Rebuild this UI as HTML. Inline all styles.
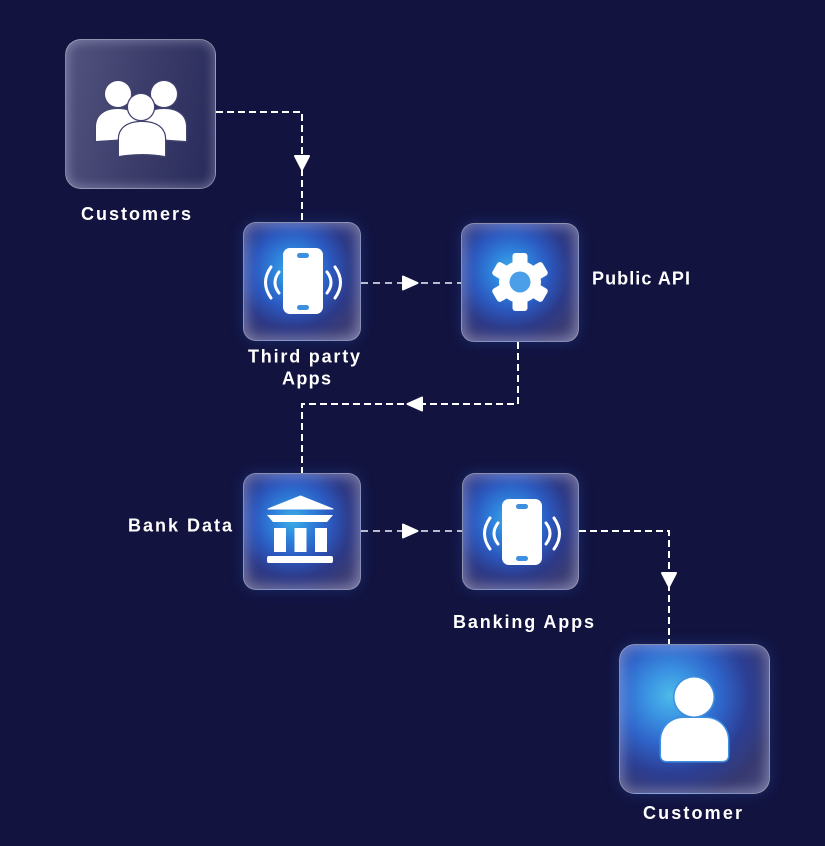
<!DOCTYPE html>
<html>
<head>
<meta charset="utf-8">
<style>
  html,body{margin:0;padding:0;}
  body{width:825px;height:846px;background:#12133f;position:relative;overflow:hidden;}
  .box{position:absolute;box-sizing:border-box;border:1px solid rgba(255,255,255,0.42);
    box-shadow: inset 0 0 12px 3px rgba(215,215,245,0.38), 0 0 14px rgba(50,110,220,0.28);}
  .gray{background:linear-gradient(100deg,#535480 0%,#3c3d6a 50%,#282a5a 100%);
    box-shadow: inset 0 0 10px 2px rgba(210,210,240,0.35);}
  .glow{border-radius:13px;width:118px;height:119px;
    background:radial-gradient(circle at 42% 40%, #3db0e6 0%, #2e82dc 20%, #2b58bf 40%, #2d3a88 60%, #3a3c74 78%, #4c4d7e 100%);}
  .bigglow{border-radius:16px;
    background:radial-gradient(circle at 34% 34%, #4cbbe9 0%, #3a92e2 18%, #2f66cb 36%, #2c3f95 56%, #363970 76%, #4a4b7c 100%);}
  svg{position:absolute;left:0;top:0;}
  text{font-family:"Liberation Sans",sans-serif;font-weight:bold;font-size:18px;fill:#ffffff;}
</style>
</head>
<body>
  <div class="box gray" style="left:65px;top:39px;width:151px;height:150px;border-radius:16px;"></div>
  <div class="box glow" style="left:243px;top:222px;"></div>
  <div class="box glow" style="left:461px;top:223px;"></div>
  <div class="box glow" style="left:243px;top:473px;height:117px;"></div>
  <div class="box glow" style="left:462px;top:473px;width:117px;height:117px;"></div>
  <div class="box bigglow" style="left:619px;top:644px;width:151px;height:150px;"></div>

  <svg width="825" height="846" viewBox="0 0 825 846" xmlns="http://www.w3.org/2000/svg">
    <!-- connectors -->
    <g fill="none" stroke-width="2">
      <path d="M216,112 H302 V222" stroke="#ffffff" stroke-dasharray="7,4"/>
      <path d="M361,283 H461" stroke="rgba(230,230,245,0.8)" stroke-dasharray="7,5"/>
      <path d="M518,342 V404 H302 V473" stroke="#ffffff" stroke-dasharray="7,4"/>
      <path d="M361,531 H462" stroke="rgba(230,230,245,0.8)" stroke-dasharray="7,5"/>
      <path d="M579,531 H669 V644" stroke="#ffffff" stroke-dasharray="7,4"/>
    </g>
    <!-- arrowheads -->
    <g fill="#ffffff" stroke="#ffffff" stroke-width="2" stroke-linejoin="round">
      <polygon points="295,156 309,156 302,169.5"/>
      <polygon points="403,276.5 403,289.5 417.5,283"/>
      <polygon points="422,397.5 422,410.5 407.5,404"/>
      <polygon points="403,524.5 403,537.5 417.5,531"/>
      <polygon points="662,573 676,573 669,586.5"/>
    </g>

    <!-- people icon -->
    <g fill="#ffffff" stroke="#434470" stroke-width="2.5" paint-order="stroke">
      <circle cx="118" cy="94" r="13"/>
      <circle cx="164" cy="94" r="13"/>
      <path d="M96,141 V127 C96,115 105,109 118,109 C131,109 140,115 140,127 V138 Z"/>
      <path d="M186,141 V127 C186,115 177,109 164,109 C151,109 142,115 142,127 V138 Z"/>
      <circle cx="141" cy="107" r="13"/>
      <path d="M119,156 V139 C119,128 128,122 142,122 C156,122 165,128 165,139 V156 Q142,152 119,156 Z"/>
    </g>

    <!-- phone icon third party -->
    <g>
      <rect x="283" y="248" width="40" height="66" rx="7" fill="#ffffff"/>
      <rect x="297" y="253" width="12" height="5" rx="2.5" fill="#3d8fe0"/>
      <rect x="297" y="305" width="12" height="5" rx="2.5" fill="#3d8fe0"/>
      <g fill="none" stroke="#ffffff" stroke-width="3" stroke-linecap="round">
        <path d="M279,272 Q271,282.5 279,293"/>
        <path d="M271,267 Q260,282.5 271,298"/>
        <path d="M327,272 Q335,282.5 327,293"/>
        <path d="M335,267 Q346,282.5 335,298"/>
      </g>
    </g>
    <!-- phone icon banking apps -->
    <g transform="translate(219,251)">
      <rect x="283" y="248" width="40" height="66" rx="7" fill="#ffffff"/>
      <rect x="297" y="253" width="12" height="5" rx="2.5" fill="#3d8fe0"/>
      <rect x="297" y="305" width="12" height="5" rx="2.5" fill="#3d8fe0"/>
      <g fill="none" stroke="#ffffff" stroke-width="3" stroke-linecap="round">
        <path d="M279,272 Q271,282.5 279,293"/>
        <path d="M271,267 Q260,282.5 271,298"/>
        <path d="M327,272 Q335,282.5 327,293"/>
        <path d="M335,267 Q346,282.5 335,298"/>
      </g>
    </g>

    <!-- gear icon -->
    <g transform="translate(520,282)" fill="#ffffff">
      <circle r="21"/>
      <rect x="-7.5" y="-29" width="15" height="14" rx="3"/>
      <rect x="-7.5" y="-29" width="15" height="14" rx="3" transform="rotate(60)"/>
      <rect x="-7.5" y="-29" width="15" height="14" rx="3" transform="rotate(120)"/>
      <rect x="-7.5" y="-29" width="15" height="14" rx="3" transform="rotate(180)"/>
      <rect x="-7.5" y="-29" width="15" height="14" rx="3" transform="rotate(240)"/>
      <rect x="-7.5" y="-29" width="15" height="14" rx="3" transform="rotate(300)"/>
      <circle r="10.5" fill="#4a9fe8"/>
    </g>

    <!-- bank icon -->
    <g fill="#ffffff">
      <polygon points="300.5,496 333,509 268,509" stroke="#ffffff" stroke-width="1" stroke-linejoin="round"/>
      <polygon points="267,515 333,515 327,522 273,522"/>
      <rect x="274" y="528" width="12" height="24"/>
      <rect x="294.5" y="528" width="12" height="24"/>
      <rect x="315" y="528" width="12" height="24"/>
      <rect x="267" y="556" width="66" height="7" rx="2"/>
    </g>

    <!-- customer icon -->
    <g fill="#ffffff" stroke="#3f8fe0" stroke-width="3" paint-order="stroke">
      <path d="M661,755 V741 C661,727 671,718 684,718 L705,718 C718,718 728,727 728,741 V755 Q728,761 722,761 H667 Q661,761 661,755 Z"/>
      <circle cx="694" cy="697" r="19.5"/>
    </g>

    <!-- labels -->
    <text x="81" y="220" textLength="110" lengthAdjust="spacing">Customers</text>
    <text x="248" y="362.5" textLength="112" lengthAdjust="spacing">Third party</text>
    <text x="282" y="384.5" textLength="49" lengthAdjust="spacing">Apps</text>
    <text x="592" y="284.5" textLength="98" lengthAdjust="spacing">Public API</text>
    <text x="128" y="531.5" textLength="104" lengthAdjust="spacing">Bank Data</text>
    <text x="453" y="628" textLength="141" lengthAdjust="spacing">Banking Apps</text>
    <text x="643" y="819" textLength="99" lengthAdjust="spacing">Customer</text>
  </svg>
</body>
</html>
